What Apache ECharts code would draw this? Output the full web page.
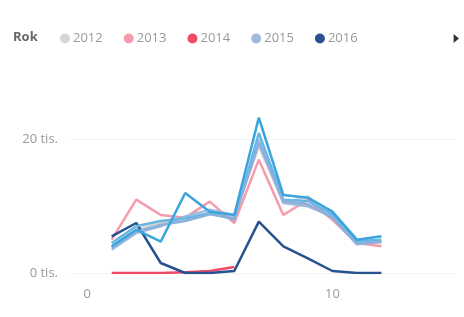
<!DOCTYPE html>
<html>
<head>
<meta charset="utf-8">
<script src="https://cdn.jsdelivr.net/npm/echarts@6/dist/echarts.min.js"></script>
<style>
  html, body { margin: 0; padding: 0; background: #fff; }
  #chart { width: 464px; height: 317px; }
</style>
</head>
<body>
<div id="chart"></div>
<script>
var chart = echarts.init(document.getElementById('chart'));

// měsíce (x)
var months = [1, 2, 3, 4, 5, 6, 7, 8, 9, 10, 11, 12];
var years = ['2012', '2013', '2014', '2015', '2016', '2017', '2018', '2019'];
var colors = ['#d6d6d6', '#f49cac', '#ef4a68', '#a3b9dc', '#27528e', '#3aa4dc', '#66b7e3', '#8cb0dc'];

// hodnoty po měsících
var v2012 = [4000, 6500, 7500, 8000, 9000, 8500, 19000, 10500, 11500, 8000, 4500, 4500];
var v2013 = [5000, 11000, 8700, 8300, 10700, 7500, 17000, 8700, 11000, 8000, 4500, 4000];
var v2014 = [0, 0, 0, 100, 300, 900];
var v2015 = [3500, 6000, 7000, 8500, 9500, 8700, 20000, 10500, 10000, 8500, 4500, 4800];
var v2016 = [5500, 7500, 1500, 0, 0, 300, 7700, 4000, 2200, 300, 0, 0];
var v2017 = [4000, 6500, 4700, 12000, 9200, 8700, 23300, 11700, 11300, 9200, 5000, 5500];
var v2018 = [4500, 7000, 7800, 8200, 9000, 8000, 21000, 11000, 10800, 8800, 4800, 5000];
var v2019 = [3800, 6200, 7200, 7800, 8800, 8200, 19500, 10800, 10300, 8300, 4300, 4700];
var values = [v2012, v2013, v2014, v2015, v2016, v2017, v2018, v2019];

var xTicks = [0, 10];

var series = [];
for (var i = 0; i < years.length; i++) {
    var pts = [];
    for (var j = 0; j < values[i].length; j++) {
        pts.push([months[j], values[i][j]]);
    }
    series.push({
        name: years[i],
        type: 'line',
        data: pts,
        showSymbol: false,
        symbol: 'none',
        lineStyle: { width: 2.5, color: colors[i] },
        itemStyle: { color: colors[i] },
        z: (i == 5 ? 5 : 2)
    });
}

var option = {
    animation: false,
    color: colors,
    textStyle: { fontFamily: 'Open Sans' },
    title: {
        text: 'Rok',
        left: 8,
        top: 26,
        textStyle: { fontSize: 13, fontWeight: 'bold', color: '#666', fontFamily: 'Open Sans' }
    },
    legend: {
        type: 'scroll',
        left: 55,
        right: 12,
        top: 27,
        icon: 'circle',
        itemWidth: 10,
        itemHeight: 10,
        itemGap: 21,
        textStyle: { fontSize: 13, color: '#999', fontFamily: 'Open Sans', padding: [0, 0, 0, -2] },
        pageButtonPosition: 'end',
        pageButtonGap: 50,
        pageButtonItemGap: 5,
        pageFormatter: function () { return ' '; },
        pageIconSize: 9,
        pageIconColor: '#333',
        pageIconInactiveColor: 'rgba(0,0,0,0)',
        data: years
    },
    grid: { left: 70, right: 9, top: 73, bottom: 44 },
    xAxis: {
        type: 'value',
        min: -0.7,
        max: 15,
        axisLine: { show: false, onZero: false },
        axisTick: { show: false },
        splitLine: { show: false },
        axisLabel: {
            customValues: xTicks,
            margin: 15,
            fontSize: 13,
            color: '#999'
        }
    },
    yAxis: {
        type: 'value',
        min: 0,
        max: 30000,
        interval: 20000,
        axisLine: { show: false, onZero: false },
        axisTick: { show: false },
        axisLabel: {
            showMaxLabel: false,
            margin: 12,
            fontSize: 13,
            color: '#999',
            formatter: function (v) { return v == 30000 ? '' : (v / 1000) + ' tis.'; }
        },
        splitLine: {
            lineStyle: { color: ['#e6e6e6', '#e6e6e6', 'rgba(0,0,0,0)'], type: 'dotted', width: 1 }
        }
    },
    series: series
};
chart.setOption(option);
</script>
</body>
</html>
